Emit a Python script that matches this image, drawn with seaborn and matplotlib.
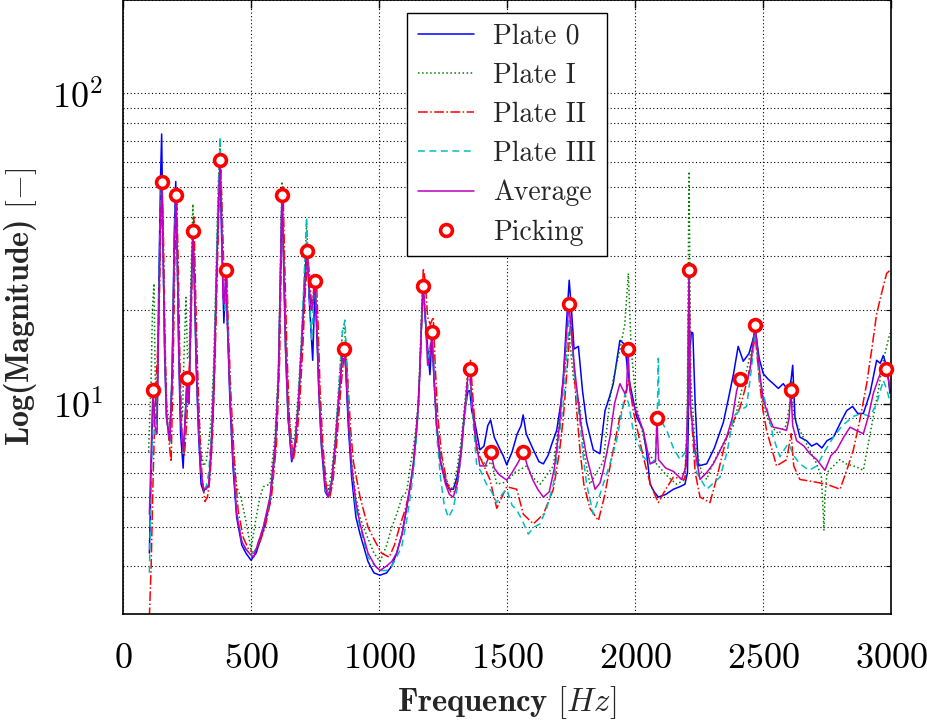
import numpy as np
import pandas as pd
import matplotlib
matplotlib.use("Agg")
import matplotlib.pyplot as plt
import seaborn as sns
from matplotlib.lines import Line2D

# ---------------- data ----------------
avg_f = [103,110,117,124,133,140,147,152,157,163,170,183,192,200,207,212,218,225,235,243,250,258,265,273,279,286,295,305,315,325,335,345,355,365,372,379,385,391,396,402,408,418,430,444,464,480,497,510,525,548,574,594,607,615,621,627,635,645,659,672,685,697,708,719,727,735,742,750,757,765,775,790,802,815,830,845,857,863,870,880,893,910,926,957,985,1004,1030,1050,1069,1090,1108,1125,1134,1145,1153,1160,1166,1172,1180,1190,1198,1207,1215,1225,1240,1260,1275,1290,1305,1320,1335,1348,1355,1362,1375,1394,1415,1437,1450,1470,1499,1520,1545,1563,1580,1600,1620,1642,1665,1685,1705,1720,1733,1742,1752,1762,1770,1790,1811,1844,1863,1876,1902,1920,1941,1960,1967,1973,1980,1993,2010,2032,2059,2080,2086,2092,2120,2150,2182,2200,2206,2211,2216,2234,2254,2280,2306,2330,2358,2380,2397,2410,2425,2436,2450,2462,2469,2478,2490,2501,2520,2540,2570,2592,2602,2609,2616,2631,2660,2683,2710,2742,2765,2788,2815,2840,2865,2892,2910,2931,2950,2963,2980,2990,2998]
avg_v = [4.4,7.0,11.1,8.5,8.0,20,40,52,30,15,9,7.6,12,30,47,30,15,9,7.0,9,12.1,10,20,36,25,14,8.5,6.0,5.3,5.3,5.5,7.5,12,25,40,61,40,22,21,27,18,10.5,6.5,4.4,3.6,3.4,3.27,3.2,3.5,4.0,5.0,7.3,12,25,47,30,15,9,6.6,7.5,10,15,22,31,24,20,21,24.8,18,11,7.5,5.4,5.0,5.6,7.5,11,14.5,15,13,9,6.3,4.8,4.1,3.3,3.0,2.9,3.0,3.1,3.3,3.8,4.66,5.7,6.4,8,9.8,13,18,23.9,20,13.3,14,17,12,8.5,6.5,5.5,5.1,5.0,5.5,6.8,9.5,12.5,12.9,10.5,8,6.3,6.3,7.0,6.2,5.9,5.67,6.0,6.5,7.0,6.3,5.7,5.3,5.0,5.2,6.2,8.5,12,17,20.9,17,13.5,11.7,8.5,6.75,5.3,5.55,6.1,7.8,10,11.6,10.8,11.1,15,11,10,9.2,8.2,6.4,6.5,9.0,6.6,6.2,6.05,5.7,6.3,10,27,10,7.1,5.7,6.0,6.4,7.0,7.8,9.0,11,12,11.8,11.6,13,16,17.9,15,12,10.3,9.2,8.4,8.3,8.2,9,11.1,8.5,7.6,7.3,6.9,6.6,6.1,6.8,7.1,7.8,8.4,8.2,8.0,9.0,10.8,12,12.8,12.9,12,10.8]

p0_f = [103,110,117,124,133,140,147,151,156,163,170,183,192,200,206,212,218,225,235,243,250,258,265,273,279,286,295,305,315,325,335,345,355,365,372,379,385,394,402,408,418,430,444,464,480,500,520,548,574,594,607,615,621,627,635,645,659,672,685,697,708,719,727,741,750,757,765,775,790,802,815,830,845,857,863,870,880,893,910,926,957,980,1004,1030,1050,1069,1090,1108,1125,1134,1145,1153,1160,1166,1172,1180,1199,1207,1215,1225,1240,1260,1275,1290,1305,1320,1335,1348,1355,1362,1375,1394,1410,1425,1436,1450,1470,1485,1499,1520,1540,1555,1563,1575,1590,1610,1625,1642,1660,1677,1694,1710,1720,1732,1743,1752,1762,1779,1795,1811,1837,1850,1863,1883,1900,1915,1930,1941,1961,1970,1980,2006,2032,2045,2059,2075,2091,2120,2150,2175,2195,2205,2212,2220,2226,2235,2247,2280,2310,2345,2364,2385,2403,2423,2445,2460,2470,2485,2501,2520,2540,2560,2579,2600,2610,2616,2625,2644,2670,2690,2710,2730,2750,2775,2800,2827,2850,2870,2892,2918,2944,2958,2970,2985,2996]
p0_v = [3.3,6,10.5,9,9,25,55,74,35,14,9,7.6,13,35,52,30,14,8,6.2,9,12,10,20,37,24,13,8,5.5,5.2,5.4,5.4,7,11,25,42,60,35,18.2,26,18,10,6.2,4.3,3.5,3.3,3.13,3.3,3.9,4.8,7.0,12,26,48,30,15,9,6.5,7.3,10,15,24,33,22,13.8,24,17,11,7.3,5.2,5.0,5.6,7.5,11,14.5,15.5,13,8.5,5.8,4.3,3.8,3.1,2.85,2.8,2.85,3.0,3.3,3.8,4.6,5.6,6.3,8,9.8,13,18,24,19,12.4,16.5,12,8.5,6.5,5.6,5.3,5.3,5.8,7,9.5,11,11,9.5,8.65,7.1,7.3,8.5,8.86,7.8,7.2,6.8,6.35,7.0,8.0,8.5,9.2,8.0,7.5,6.9,6.5,6.4,6.8,7.5,8.2,10,12.2,18,25,20,15,15.3,11,8.7,7.1,7.0,6.9,9.5,10.5,11.6,14,16.0,15.5,13,11.6,9.1,8.2,7,5.5,5.2,5.0,5.1,5.3,5.4,5.5,6,14,17,16.9,10,6.3,6.4,7.2,8.7,10.3,12.5,15.3,13.7,14.5,16,17.3,14,12.5,12.0,11.6,11.2,11.6,11.0,12,13.3,9,7.8,7.6,7.3,7.45,7.2,7.6,7.8,8.6,9.5,9.8,9.3,9.3,10.8,13.8,13.5,14.3,13,10.8]

p1_f = [100,110,115,121,126,133,140,147,152,157,163,170,183,192,200,207,212,218,225,232,238,246,252,258,265,273,279,286,295,305,315,325,335,345,355,365,372,379,385,391,400,408,418,430,444,460,480,500,520,535,548,574,594,607,615,621,627,635,645,659,672,685,697,708,717,727,735,742,750,757,765,775,790,802,815,830,845,857,865,872,880,893,910,926,950,980,1004,1030,1050,1069,1090,1108,1125,1134,1145,1153,1160,1166,1172,1180,1190,1207,1215,1225,1240,1260,1275,1290,1305,1320,1335,1348,1355,1362,1375,1394,1420,1440,1460,1499,1530,1577,1600,1629,1650,1681,1705,1725,1742,1760,1785,1800,1824,1850,1876,1902,1915,1941,1960,1974,1985,2006,2045,2070,2091,2130,2163,2195,2204,2211,2218,2234,2260,2280,2300,2332,2365,2384,2410,2436,2455,2470,2485,2501,2530,2560,2590,2605,2612,2620,2657,2685,2710,2728,2735,2738,2742,2750,2775,2800,2825,2853,2875,2892,2912,2931,2950,2970,2985,2996]
p1_v = [7,12,20,24.4,12,9,22,45,50,30,15,10,8.5,12,30,46,28,16,10,9,14,22,14,14,25,44,26,16,10,7,6.3,6.5,7.5,9,14,30,50,70,45,28,25,18,11,7.5,5.4,5.0,4.2,3.4,4.3,5.0,5.4,5.5,8,13,28,52,32,17,10,7.5,8,11,16,25,38,24,21,22,24,18,12,8,5.7,5.3,6,8,12,17,18,14,9.5,6.5,5,4.3,3.8,3.3,3.1,3.5,4.0,4.4,5.0,5.2,6.5,7.2,8.5,10,14,20,25,20,14,16,12,8.5,6.8,5.8,5.4,5.3,6.2,7.5,10,13,13,10,8,6.7,6.3,6.5,5.5,5.6,6.0,6.3,5.8,5.5,5.8,6.3,9,13,16.9,12,9.8,7.0,5.5,6.0,6.5,10.3,12,14.9,18,26.3,15,9.8,7.1,6.6,6.3,5.8,5.5,5.7,9,56,12,7.5,6.0,5.7,6.3,7.1,8.0,8.5,10.5,12.8,15,17.9,13,9.8,8.5,8.0,8.5,10,11.9,9,7.8,7.0,6.4,5.8,4.5,3.9,5.0,6.0,6.3,6.6,6.4,6.3,6.2,6.1,7.5,9.1,11,13.8,15.5,16.9]

p2_f = [103,110,117,124,130,140,147,153,158,165,172,180,188,195,203,210,216,222,230,240,248,256,263,270,277,283,290,300,310,320,330,340,350,360,370,376,382,388,395,405,412,422,435,450,470,490,510,530,555,580,600,612,620,625,631,640,650,665,678,690,702,712,722,730,738,746,755,762,770,780,795,808,820,835,850,862,870,878,888,900,926,957,985,1010,1040,1060,1080,1100,1120,1140,1155,1165,1173,1180,1190,1200,1212,1220,1230,1245,1265,1280,1295,1310,1325,1340,1350,1357,1365,1375,1381,1410,1433,1460,1480,1499,1538,1564,1603,1642,1681,1705,1720,1735,1750,1760,1770,1785,1800,1824,1857,1880,1915,1940,1961,1975,1993,2032,2060,2091,2120,2150,2195,2205,2211,2217,2235,2254,2293,2320,2358,2385,2410,2440,2458,2470,2485,2500,2514,2553,2592,2610,2620,2644,2700,2749,2775,2801,2830,2853,2880,2905,2925,2944,2965,2983,2998]
p2_v = [2.05,3,5.5,9,12,18,35,48,35,15,9,7.5,6.5,12,30,45,28,14,8,6.8,8.5,12,15,25,40,24,14,8,5.6,4.84,5.0,5.8,8,14,30,48,58,40,25,27,17,10.5,6.5,4.5,3.7,3.4,3.3,3.5,4.0,5.0,7.5,14,35,50,30,15,9,6.6,7.5,10,15,23,30,25,20,24,26,18,11,7.5,5.3,5.0,5.6,7.5,11,14,15,12,8.5,6.5,5.0,4.0,3.6,3.3,3.2,3.5,4.0,4.5,5.2,7.0,10,17,27.3,25,19,18,19,13,9,6.8,5.6,5.2,5.2,5.8,7.5,10.5,13,13.8,11,8.5,7.1,6.3,5.7,4.6,5.0,5.4,5.3,4.4,4.1,4.4,5.3,7,9,13,19,14,10,7.1,5.5,4.6,4.2,5.0,7.1,9,10.3,12,9.5,6.75,5.5,4.8,5.3,5.8,5.7,9,27,10,6,5.0,4.8,5.8,7.8,8.8,9.7,12,14.5,16.5,12,9.5,8.2,6.3,6.6,8,6.3,5.7,5.6,5.5,5.4,5.3,6.2,7.1,9,11.6,15,19.5,23,26.3,27]

p3_f = [103,110,117,124,133,140,147,152,157,163,170,183,192,200,207,212,218,225,235,243,250,258,265,273,279,286,295,305,315,325,335,345,355,365,372,379,385,391,398,403,410,420,432,446,464,480,500,520,548,574,594,607,615,621,627,635,645,659,672,685,697,708,717,727,737,745,752,758,765,775,790,802,815,830,845,857,867,874,882,893,910,926,957,985,1004,1030,1050,1069,1090,1108,1125,1134,1145,1153,1160,1166,1172,1180,1190,1198,1207,1215,1225,1240,1255,1271,1290,1305,1320,1335,1348,1355,1362,1381,1400,1420,1440,1460,1480,1499,1520,1538,1560,1583,1605,1629,1655,1681,1705,1720,1735,1745,1755,1770,1785,1800,1811,1837,1863,1902,1928,1950,1961,1975,1993,2032,2059,2080,2088,2091,2095,2124,2150,2176,2202,2206,2211,2216,2241,2280,2332,2360,2384,2410,2436,2455,2470,2485,2514,2540,2566,2599,2620,2644,2680,2710,2740,2775,2810,2853,2885,2918,2944,2970,2985,2998]
p3_v = [2.85,5.5,9.5,8,9,22,45,52,30,14,9,7.5,12,33,48,30,15,9.5,6.8,9,11.5,10,19,34,24,13,8.5,6.0,5.3,5.4,6.0,8,13,28,48,72.5,42,25,20,25,18,10,6.3,4.4,3.6,3.4,3.25,3.4,4.0,4.9,7.2,12,25,46,30,15,9,6.8,7.6,10,16,26,39.9,23,16,22,23,18,11,7.5,5.3,5.0,5.6,7.6,12,17,18.6,14,9,6.2,4.6,4.0,3.2,3.0,2.9,2.9,3.0,3.2,3.5,4.2,5.2,6.0,7.5,9.5,13,18,23,20,14,15,17,13,8,5.8,4.7,4.3,4.6,5.3,6.8,9,11.5,12,10,6.4,6.0,5.5,5.2,4.8,5.1,5.3,4.7,4.55,4.2,3.8,4.0,4.1,4.6,5.5,8,10,15,20,15,11,8.7,6.5,5.5,4.4,5.1,6.4,7.6,9.5,10.8,10,8.2,6.75,6.4,6.6,10,14,9,8.2,7.2,6.6,7.1,10,27,10,6.0,5.3,5.8,7,9.1,9.5,9.8,13,17.3,12,9.8,7.8,6.75,7.45,6.8,6.4,6.1,6.3,7.0,7.8,8.5,9.1,9.3,9.1,10,11.9,11,10]

pick_f = [117,152,207,250,273,379,402,621,719,750,863,1172,1207,1355,1437,1563,1742,1973,2086,2211,2410,2469,2609,2980]
pick_v = [11.1,51.8,47,12.1,36,61,26.9,47,31,24.8,15,23.9,17,12.9,7.0,7.0,20.9,15,9.0,26.9,12,17.9,11.1,12.9]

series_names = ["Plate 0", "Plate I", "Plate II", "Plate III", "Average"]

# ---------------- style ----------------
sns.set_style("white")
plt.rcParams["font.family"] = ["cmr10", "DejaVu Serif"]
plt.rcParams["mathtext.fontset"] = "cm"
plt.rcParams["axes.formatter.use_mathtext"] = True
plt.rcParams["axes.unicode_minus"] = False

fig = plt.figure(figsize=(9.28, 7.2), dpi=100)
ax = fig.add_axes([123/928, 1-614/720, (891-123)/928, 614/720])

styles = [
    (series_names[0], p0_f, p0_v, (0, 0, 1), "-"),
    (series_names[1], p1_f, p1_v, (0, 0.5, 0), ":"),
    (series_names[2], p2_f, p2_v, (1, 0, 0), "-."),
    (series_names[3], p3_f, p3_v, (0, 0.75, 0.75), (0, (4.5, 3))),
    (series_names[4], avg_f, avg_v, (0.75, 0, 0.75), "-"),
]
lw = 1.1
handles = []
for name, f, v, col, ls in styles:
    df = pd.DataFrame({"f": f, "v": v})
    sns.lineplot(data=df, x="f", y="v", ax=ax, color=col, linestyle=ls,
                 linewidth=lw, estimator=None, sort=False)
    handles.append(Line2D([], [], color=col, linestyle=ls, linewidth=lw, label=name))

pk = pd.DataFrame({"f": pick_f, "v": pick_v})
ax.plot(pk["f"], pk["v"], "o", ms=8.5, mfc="white", mec=(1, 0, 0), mew=2.6,
        zorder=10, clip_on=False)
handles.append(Line2D([], [], marker="o", ls="none", ms=8.5, mfc="white",
                      mec=(1, 0, 0), mew=2.6, label="Picking"))

ax.set_yscale("log")
ax.set_xlim(0, 3000)
ax.set_ylim(2.1, 200)
ax.set_xticks([0, 500, 1000, 1500, 2000, 2500, 3000])

gls = (0, (1, 2.2))
ax.grid(True, which="major", axis="x", color="k", linestyle=gls, linewidth=0.8)
ax.grid(True, which="both", axis="y", color="k", linestyle=gls, linewidth=0.8)
ax.set_axisbelow(True)

ax.tick_params(which="both", direction="in", top=True, right=True, colors="k")
ax.tick_params(which="major", length=6, width=1.0, labelsize=26)
ax.tick_params(axis="x", which="major", pad=21)
ax.tick_params(axis="y", which="major", pad=14)
ax.tick_params(which="minor", length=3.5, width=0.8)
ax.xaxis.set_minor_locator(matplotlib.ticker.NullLocator())
for s in ax.spines.values():
    s.set_color("k")
    s.set_linewidth(1.2)

ax.set_xlabel(r"Frequency $[Hz]$", fontsize=23.5, fontfamily="cmb10", labelpad=7)
ax.set_ylabel(r"Log(Magnitude) $[-]$", fontsize=23, fontfamily="cmb10", labelpad=10)

leg = ax.legend(handles=handles, loc="upper center", bbox_to_anchor=(0.5, 1 - 13/614),
                prop={"family": "cmr10", "size": 20}, frameon=True, fancybox=False,
                framealpha=1, edgecolor="k", handlelength=2.0, handletextpad=0.7,
                labelspacing=0.46, borderpad=0.38, borderaxespad=0)
leg.get_frame().set_linewidth(1.0)

fig.savefig("out.png", dpi=100)
